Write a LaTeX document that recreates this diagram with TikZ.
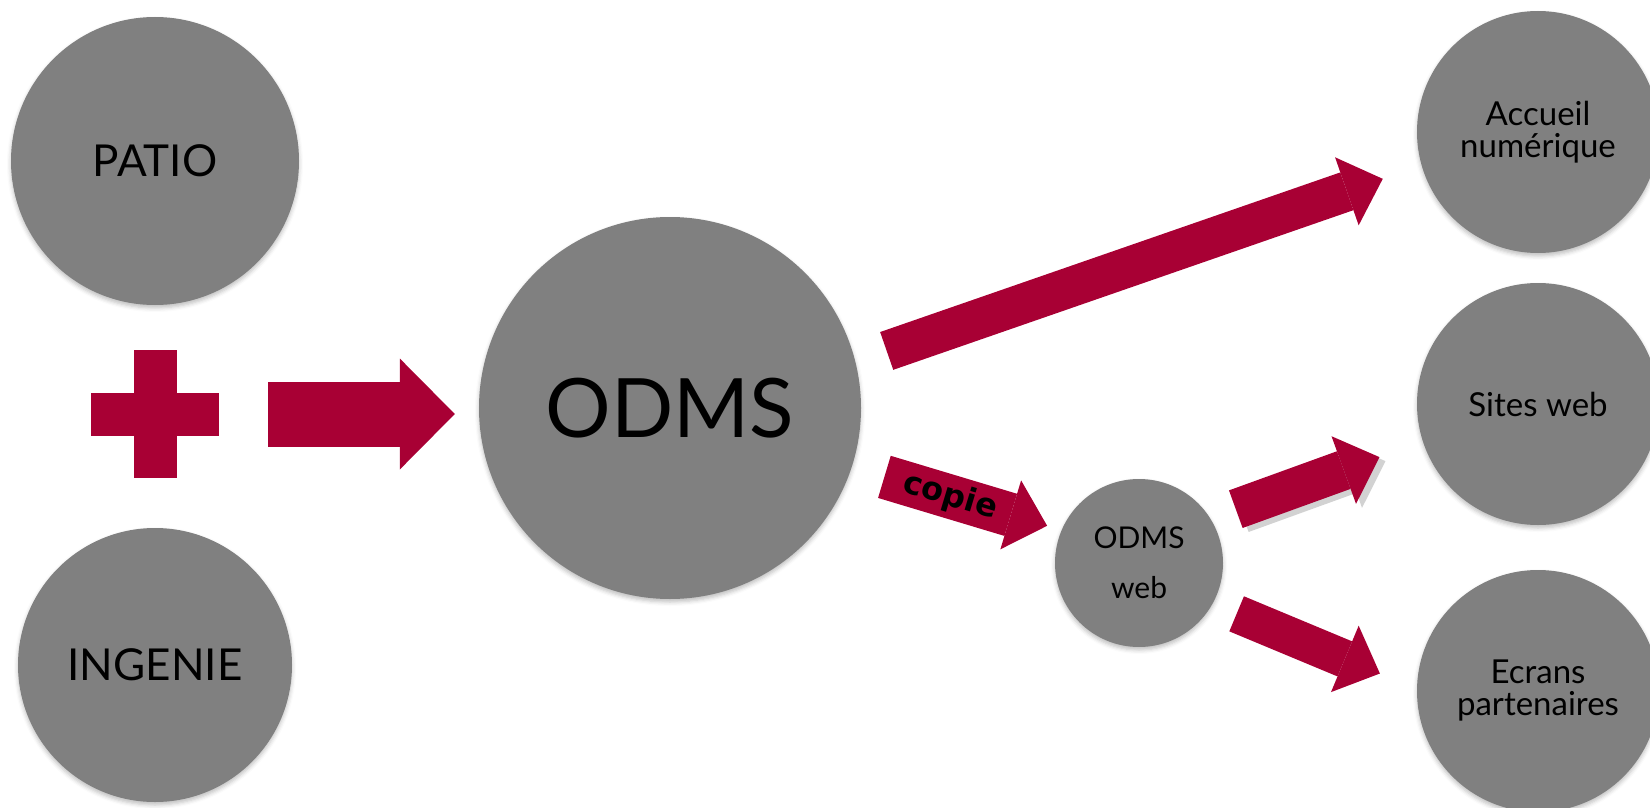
\documentclass[tikz,border=0pt]{standalone}
\usepackage{fontspec}
\setmainfont{Lato}
\newfontfamily\copiefont{DejaVu Sans}
\usetikzlibrary{calc,arrows.meta,shadows.blur}

\definecolor{odmsred}{RGB}{168,0,52}
\definecolor{odmsgray}{RGB}{128,128,128}
\definecolor{shadowgray}{RGB}{210,210,210}

\begin{document}
\begin{tikzpicture}[x=1pt,y=-1pt,
  bubble/.style={circle, fill=odmsgray, inner sep=0pt, align=center, text=black,
    blur shadow={shadow xshift=0pt, shadow yshift=-3pt, shadow blur radius=4pt, shadow opacity=25}},
  fatarrow/.style={draw=odmsred, line width=40pt, -{Triangle[length=38pt,width=72pt,line width=0pt]}}]

  \useasboundingbox (0,0) rectangle (1650,808);

  \node [bubble, minimum size=288pt, font=\fontsize{44}{50}\selectfont] (patio) at (155,161) {PATIO};
  \node [bubble, minimum size=274pt, font=\fontsize{44}{50}\selectfont] (ingenie) at (155,665) {INGENIE};
  \node [bubble, minimum size=382pt, font=\fontsize{82}{90}\selectfont] (odms) at (670,408) {ODMS};
  \node [bubble, minimum size=168pt, font=\fontsize{30}{50}\selectfont] (web) at (1139,563) {ODMS\\web};

  \foreach \name/\ypos/\txt in {acc/132/{Accueil\\numérique}, sites/404/{Sites web}, ecr/691/{Ecrans\\partenaires}}
  {
    \node [bubble, minimum size=242pt, font=\fontsize{33}{32}\selectfont] (\name) at (1538,\ypos) {\txt};
  }

  % the plus sign
  \node [minimum size=128pt, inner sep=0pt] (plus) at (155,414) {};
  \fill [odmsred] ($(plus.west)+(0,-21.5)$) rectangle ($(plus.east)+(0,21.5)$);
  \fill [odmsred] ($(plus.north)+(-21.5,0)$) rectangle ($(plus.south)+(21.5,0)$);

  \draw [fatarrow, line width=65pt, -{Triangle[length=55pt,width=111pt,line width=0pt]}, shorten <=49pt, shorten >=24pt] (plus.east) -- (plus.east -| odms.west);
  \draw [fatarrow, shorten <=33pt, shorten >=41pt] (odms.14) -- (acc.196);
  \draw [fatarrow, line width=44pt, shorten <=34pt, shorten >=15pt] (odms.342) -- (web.157)
    node [pos=0.47, sloped, text=black, font=\copiefont\bfseries\fontsize{32}{32}\selectfont] (copie) {copie};
  \draw [fatarrow, draw=shadowgray, transform canvas={xshift=6pt,yshift=-4pt}, shorten <=27pt, shorten >=46pt] (web.32) -- (sites.198);
  \draw [fatarrow, shorten <=27pt, shorten >=46pt] (web.32) -- (sites.198);
  \draw [fatarrow, line width=38pt, shorten <=26pt, shorten >=40pt] (web.331) -- (ecr.179);
\end{tikzpicture}
\end{document}
